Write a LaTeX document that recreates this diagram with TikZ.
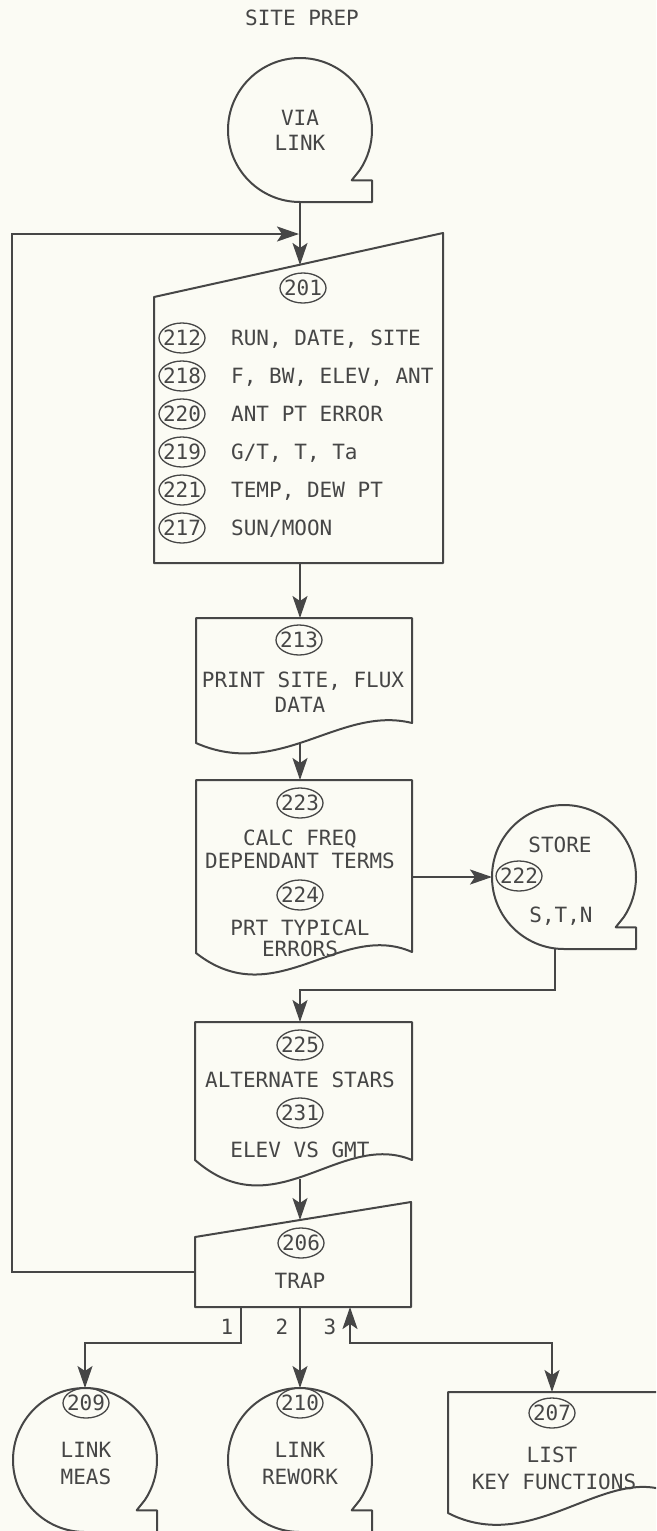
\documentclass[tikz,border=0pt]{standalone}
\usepackage{fontspec}
\setmonofont{DejaVu Sans Mono}
\usetikzlibrary{arrows.meta,shapes.geometric}
\definecolor{ink}{RGB}{70,70,70}
\definecolor{paper}{RGB}{251,251,244}
% circle with the small tab at its lower right
\newcommand{\tapeline}[1]{%
  \draw[outline] (#1.-34) -- ++(-8pt,-10pt) coordinate (#1-k)
    -- (#1-k -| #1.east) -- (#1.east |- #1.south) -- (#1.south)
    arc[start angle=270, end angle=-34, radius=72pt] -- cycle;}

\begin{document}
\begin{tikzpicture}[x=1pt,y=1pt,>={Stealth[length=22pt,width=15pt,inset=5pt]},
  outline/.style={draw=ink,line width=2pt,line join=round},
  flow/.style={draw=ink,line width=2.2pt},
  tape/.style={circle,minimum size=144pt,inner sep=0pt,outer sep=0pt},
  lbl/.style={inner sep=0pt,text=ink,text height=15pt,text depth=0pt,
    font=\ttfamily\fontsize{21}{25}\selectfont},
  num/.style={lbl,ellipse,draw=ink,line width=1.3pt,inner xsep=-4pt,
    inner ysep=0pt,minimum width=46pt,minimum height=30pt}]
\useasboundingbox (0,0) rectangle (656,-1531);
\fill[paper] (0,0) rectangle (656,-1531);
\clip (0,0) rectangle (656,-1531);

\node[lbl] (title) at (302,-18) {SITE PREP};

% start
\node[tape] (via) at (300,-130) {};
\tapeline{via}
\node[lbl] (via1) at (300,-118) {VIA};
\node[lbl] (via2) at (300,-143) {LINK};

% 201 input
\draw[outline] (154,-297) -- (443,-233) -- (443,-563) -- (154,-563) -- cycle;
\coordinate (p201n) at (300,-265);
\coordinate (p201s) at (300,-563);
\coordinate (join) at (300,-234);
\node[num] (c201) at (303,-288) {201};
\foreach \n/\t [count=\i] in {212/{RUN, DATE, SITE},218/{F, BW, ELEV, ANT},
    220/{ANT PT ERROR},219/{G/T, T, Ta},221/{TEMP, DEW PT},217/{SUN/MOON}}{
  \node[num] (c\n) at (182,{-338-38*(\i-1)}) {\n};
  \node[lbl,anchor=west] (r\n) at (231,{-338-38*(\i-1)}) {\t};
}

% 213 print
\draw[outline] (196,-618) -- (412,-618) -- (412,-723)
  .. controls (340,-705) and (280,-780) .. (196,-743) -- cycle;
\coordinate (p213n) at (300,-618);
\coordinate (p213s) at (300,-744);
\node[num] (c213) at (299,-640) {213};
\node[lbl] (t213a) at (303,-680) {PRINT SITE, FLUX};
\node[lbl] (t213b) at (300,-705) {DATA};

% 223/224 print
\draw[outline] (196,-780) -- (412,-780) -- (412,-952)
  .. controls (340,-920) and (275,-1015) .. (196,-953) -- cycle;
\coordinate (p223n) at (300,-780);
\coordinate (p223e) at (412,-877);
\node[num] (c223) at (300,-803) {223};
\node[lbl] (t223a) at (300,-838) {CALC FREQ};
\node[lbl] (t223b) at (300,-861) {DEPENDANT TERMS};
\node[num] (c224) at (300,-895) {224};
\node[lbl] (t224a) at (300,-928) {PRT TYPICAL};
\node[lbl] (t224b) at (300,-949) {ERRORS};

% store
\node[tape] (store) at (564,-877) {};
\tapeline{store}
\node[lbl] (st1) at (560,-845) {STORE};
\node[num] (c222) at (519,-876) {222};
\node[lbl] (st2) at (561,-915) {S,T,N};
\coordinate (s222) at (555,-948);
\coordinate (j225) at (300,-990);

% 225/231 print
\draw[outline] (195,-1022) -- (412,-1022) -- (412,-1160)
  .. controls (340,-1130) and (275,-1230) .. (195,-1160) -- cycle;
\coordinate (p225n) at (300,-1022);
\coordinate (p225s) at (300,-1179);
\node[num] (c225) at (300,-1045) {225};
\node[lbl] (t225) at (300,-1080) {ALTERNATE STARS};
\node[num] (c231) at (300,-1113) {231};
\node[lbl] (t231) at (300,-1150) {ELEV VS GMT};

% 206 trap
\draw[outline] (195,-1237) -- (411,-1202) -- (411,-1307) -- (195,-1307) -- cycle;
\coordinate (p206n) at (300,-1220);
\coordinate (trapw) at (195,-1272);
\coordinate (fbc) at (12,-234);
\coordinate (ex1) at (241,-1307);
\coordinate (ex2) at (300,-1307);
\coordinate (ex3) at (350,-1307);
\node[num] (c206) at (301,-1243) {206};
\node[lbl] (t206) at (300,-1281) {TRAP};
\node[lbl] (k1) at (227,-1327) {1};
\node[lbl] (k2) at (282,-1327) {2};
\node[lbl] (k3) at (330,-1327) {3};

% exits
\node[tape] (n209) at (85,-1460) {};
\tapeline{n209}
\node[num] (c209) at (86,-1403) {209};
\node[lbl] (t209a) at (86,-1450) {LINK};
\node[lbl] (t209b) at (86,-1477) {MEAS};
\coordinate (j209) at (85,-1343);

\node[tape] (n210) at (300,-1460) {};
\tapeline{n210}
\node[num] (c210) at (300,-1403) {210};
\node[lbl] (t210a) at (300,-1450) {LINK};
\node[lbl] (t210b) at (300,-1477) {REWORK};

\draw[outline] (448,-1392) -- (664,-1392) -- (664,-1490)
  .. controls (600,-1470) and (530,-1555) .. (448,-1513) -- cycle;
\coordinate (p207n) at (552,-1392);
\coordinate (j207) at (552,-1343);
\node[num] (c207) at (552,-1413) {207};
\node[lbl] (t207a) at (552,-1455) {LIST};
\node[lbl] (t207b) at (554,-1482) {KEY FUNCTIONS};

% connectors
\draw[flow,->] (via.south) -- (p201n);
\draw[flow,->] (p201s) -- (p213n);
\draw[flow,->] (p213s) -- (p223n);
\draw[flow,->] (p223e) -- (store.west);
\draw[flow,->] (s222) |- (j225) -- (p225n);
\draw[flow,->] (p225s) -- (p206n);
\draw[flow,->,shorten >=1pt] (trapw) -| (fbc) -- (join);
\draw[flow,->] (ex1) |- (j209) -- (n209.north);
\draw[flow,->] (ex2) -- (n210.north);
\draw[flow,<->] (ex3) |- (j207) -- (p207n);
\end{tikzpicture}
\end{document}
